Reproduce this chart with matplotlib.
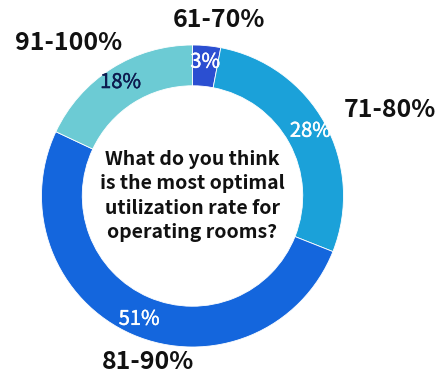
import matplotlib
matplotlib.use('Agg')
import matplotlib.pyplot as plt
import matplotlib.patheffects as pe

# ── Data ──────────────────────────────────────────────────────────────────────
CATEGORIES = ['61-70%', '71-80%', '81-90%', '91-100%']
SHARES     = [3, 28, 51, 18]
COLORS     = ['#2b4fd1', '#1ba1d9', '#1466dd', '#6ccbd4']
PCT_COLORS = ['white', 'white', 'white', '#0d1b4f']
QUESTION   = ('What do you think\nis the most optimal\n'
              'utilization rate for\noperating rooms?')

# outer label anchors (pixel layout, y from top)
LABEL_POS  = [(219, 20), (390, 110), (148, 362), (69, 43)]

W, H = 446, 376
plt.rcParams['font.family'] = ['Noto Sans CJK KR', 'DejaVu Sans']

fig = plt.figure(figsize=(W / 100, H / 100), dpi=100)
ax = fig.add_axes([0, 0, 1, 1])

cx, cy, R = 192.5, H - 196, 151
wedges, _, autotexts = ax.pie(
    SHARES, colors=COLORS, startangle=90, counterclock=False,
    center=(cx, cy), radius=R, autopct='%d%%', pctdistance=0.89,
    wedgeprops=dict(width=R * 0.27, edgecolor='white', linewidth=0.6),
    textprops=dict(fontsize=14.5),
)
# regular weight thickened a little to look "medium"
for t, c in zip(autotexts, PCT_COLORS):
    t.set_color(c)
    t.set_path_effects([pe.withStroke(linewidth=0.3, foreground=c)])

ax.text(cx, cy, QUESTION, ha='center', va='center', fontsize=14,
        fontweight='bold', color='#111111', linespacing=1.35)

for name, (x, y) in zip(CATEGORIES, LABEL_POS):
    ax.text(x, H - y, name, ha='center', va='center', fontsize=18,
            fontweight='bold', color='#111111')

ax.set_xlim(0, W)
ax.set_ylim(0, H)
ax.set_aspect('equal')
ax.axis('off')

fig.savefig('out.png', dpi=100)
